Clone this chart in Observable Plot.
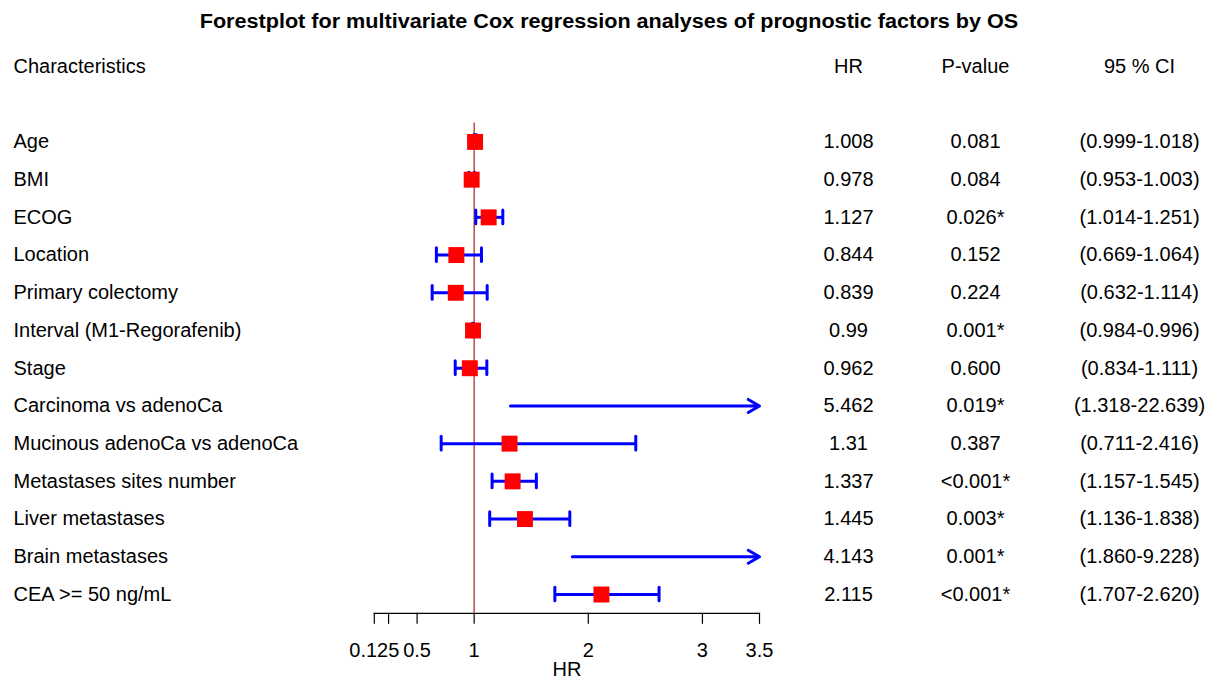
<!DOCTYPE html>
<html><head><meta charset="utf-8">
<script src="https://cdn.jsdelivr.net/npm/d3@7"></script>
<script src="https://cdn.jsdelivr.net/npm/@observablehq/plot@0.6"></script>
<style>
body{margin:0;background:#fff;font-family:"Liberation Sans",Arial,sans-serif;}
#title{height:42px;line-height:42px;text-align:center;font-weight:bold;font-size:20px;color:#000;}
#title span{display:inline-block;transform:scaleX(1.08);}
#chart svg{display:block;}
</style></head><body>
<div id="title"><span></span></div><div id="chart"></div>
<script>
const title = "Forestplot for multivariate Cox regression analyses of prognostic factors by OS";
const characteristics = ["Age","BMI","ECOG","Location","Primary colectomy","Interval (M1-Regorafenib)","Stage","Carcinoma vs adenoCa","Mucinous adenoCa vs adenoCa","Metastases sites number","Liver metastases","Brain metastases","CEA >= 50 ng/mL"];
const hr = [1.008,0.978,1.127,0.844,0.839,0.99,0.962,5.462,1.31,1.337,1.445,4.143,2.115];
const pValues = ["0.081","0.084","0.026*","0.152","0.224","0.001*","0.600","0.019*","0.387","<0.001*","0.003*","0.001*","<0.001*"];
const lower = [0.999,0.953,1.014,0.669,0.632,0.984,0.834,1.318,0.711,1.157,1.136,1.860,1.707];
const upper = [1.018,1.003,1.251,1.064,1.114,0.996,1.111,22.639,2.416,1.545,1.838,9.228,2.620];
const xTicks = [0.125, 0.25, 0.5, 1, 2, 3, 3.5];
const headerLabels = {name:"Characteristics", hr:"HR", p:"P-value", ci:"95 % CI"};
const axisLabel = "HR";

document.querySelector("#title span").textContent = title;

const rows = characteristics.map((name,i)=>({name, hr:hr[i], p:pValues[i], lower:lower[i], upper:upper[i],
  hrLabel:String(hr[i]), ciLabel:`(${lower[i].toFixed(3)}-${upper[i].toFixed(3)})`}));
const xMin = xTicks[0], xMax = xTicks[xTicks.length-1];
const inRange = rows.filter(d=>d.upper<=xMax);
const outRange = rows.filter(d=>d.upper>xMax);
const squares = rows.filter(d=>d.hr<=xMax);
const yDomain = ["__header","__blank",...characteristics];
const table = [{name:"__header", label:headerLabels.name, hrLabel:headerLabels.hr, p:headerLabels.p, ciLabel:headerLabels.ci}, ...rows.map(d=>({...d, label:d.name}))];

const W=1218, TOP=42, H=679-TOP;
const mL=373.8, mR=W-759;
const bandTop=47.14-TOP, bandBottom=612.86-TOP;
const font='"Liberation Sans",Arial,sans-serif';
const blue="#0000ff";
const FS=20;

const chart = Plot.plot({
  width:W, height:H, marginLeft:mL, marginRight:mR, marginTop:0, marginBottom:H-bandBottom,
  x:{domain:[xMin,xMax], axis:null},
  y:{type:"band", domain:yDomain, range:[bandTop,bandBottom], padding:0, round:false, axis:null},
  style:{fontFamily:font, fontSize:FS+"px", color:"#000", background:"#fff"},
  marks:[
    Plot.frame({anchor:"bottom", stroke:"#000", strokeWidth:1.2}),
    Plot.axisX({ticks:xTicks, tickFormat:d=>d===0.25?"":String(d), tickSize:11, tickPadding:18, fontSize:FS, label:null, anchor:"bottom", strokeWidth:1.2}),
    Plot.text([axisLabel], {frameAnchor:"bottom", lineAnchor:"middle", dy:56, fontSize:FS}),
    Plot.ruleX([1], {y1:()=>characteristics[0], y2:()=>characteristics[characteristics.length-1], stroke:"#b5403f", strokeWidth:1.4}),
    Plot.ruleY(inRange, {y:"name", x1:"lower", x2:"upper", stroke:blue, strokeWidth:3}),
    Plot.tickX(inRange, {x:"lower", y:"name", insetTop:12, insetBottom:12, stroke:blue, strokeWidth:3, strokeLinecap:"round"}),
    Plot.tickX(inRange, {x:"upper", y:"name", insetTop:12, insetBottom:12, stroke:blue, strokeWidth:3, strokeLinecap:"round"}),
    Plot.arrow(outRange, {x1:"lower", x2:d=>Math.min(d.upper,xMax), y1:"name", y2:"name", stroke:blue, strokeWidth:3, headLength:6.5, headAngle:60}),
    Plot.dot(squares, {x:"hr", y:"name", symbol:"square", r:9, fill:"#ff0000", stroke:null}),
    Plot.text(table, {y:"name", text:"label", frameAnchor:"left", dx:13-mL, textAnchor:"start", fontSize:FS}),
    Plot.text(table, {y:"name", text:"hrLabel", frameAnchor:"left", dx:848-mL, textAnchor:"middle", fontSize:FS}),
    Plot.text(table, {y:"name", text:"p", frameAnchor:"left", dx:975-mL, textAnchor:"middle", fontSize:FS}),
    Plot.text(table, {y:"name", text:"ciLabel", frameAnchor:"left", dx:1139-mL, textAnchor:"middle", fontSize:FS})
  ]
});
document.getElementById("chart").appendChild(chart);
</script></body></html>
